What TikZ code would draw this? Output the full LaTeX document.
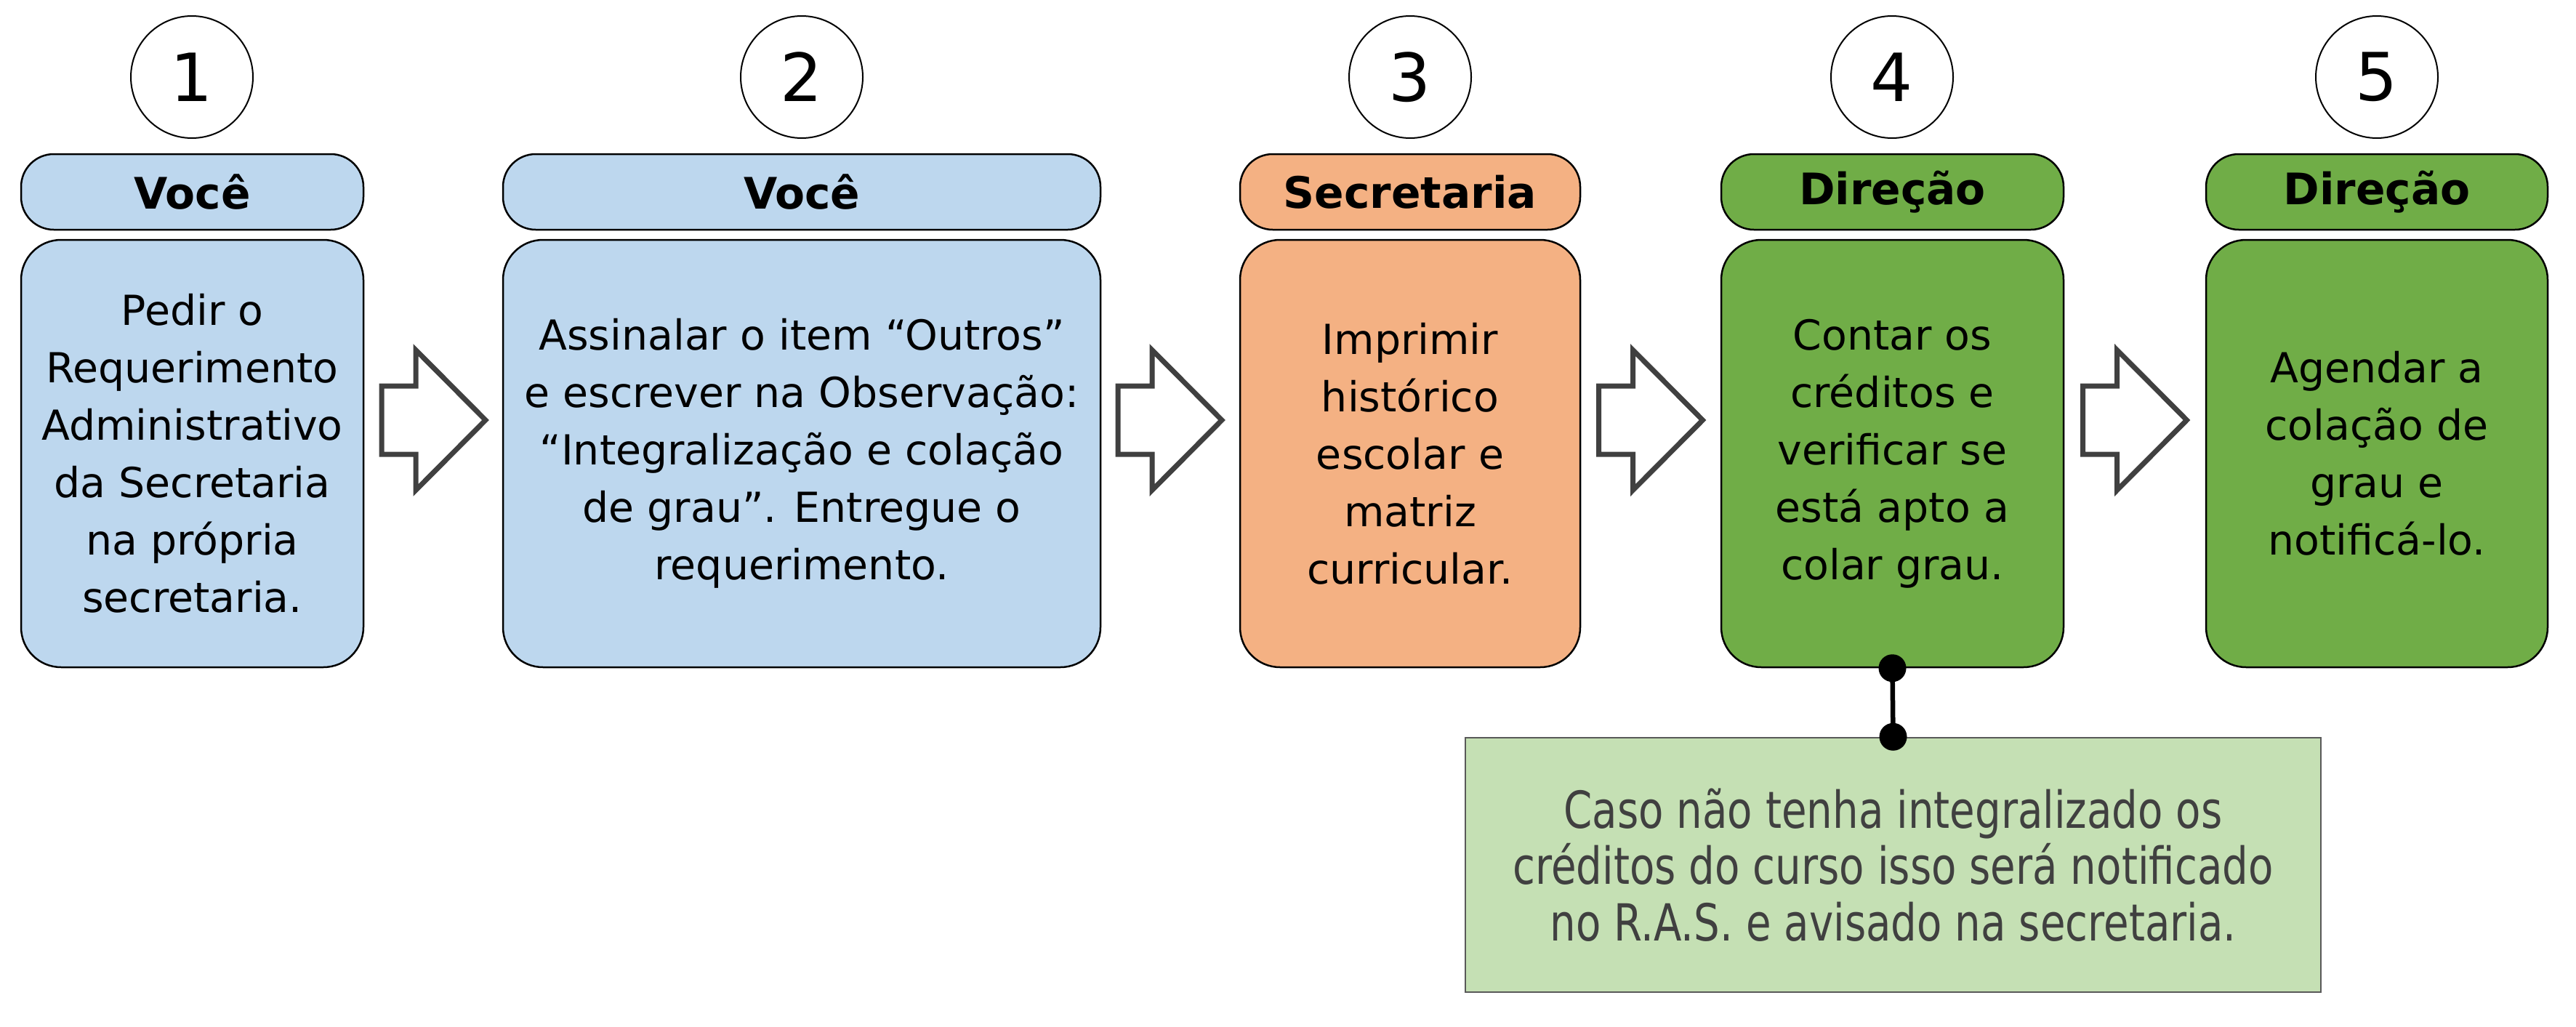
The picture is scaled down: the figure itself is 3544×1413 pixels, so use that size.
\documentclass[tikz,border=0pt]{standalone}
\usepackage{fontspec}
\setmainfont{DejaVu Sans}
\newfontfamily\notefont[FakeStretch=0.8]{DejaVu Sans}
\definecolor{cblue}{HTML}{BDD7EE}
\definecolor{corange}{HTML}{F4B183}
\definecolor{cgreen}{HTML}{70AD47}
\definecolor{clight}{HTML}{C5E0B4}
\definecolor{cgray}{HTML}{404040}
\definecolor{cnote}{HTML}{595959}
\tikzset{
  hdr/.style={draw=black, line width=0.25mm, rounded corners=4.5mm, inner sep=0pt,
    minimum height=10.4mm, font=\fontsize{17}{20}\selectfont\bfseries},
  body/.style={draw=black, line width=0.25mm, rounded corners=5.5mm, inner sep=0pt,
    minimum height=58.8mm, align=center, font=\fontsize{16.2}{22.5}\selectfont},
  num/.style={draw=black, circle, line width=0.2mm, minimum size=16.8mm, inner sep=0pt,
    font=\fontsize{26}{26}\selectfont},
  blockarrow/.pic={\draw[draw=cgray, fill=white, line width=0.7mm, miter limit=10]
    (-71.5,-47) -- ++(47,0) -- ++(0,-49.5) -- ++(96,96.5) -- ++(-96,96.5)
    -- ++(0,-49.5) -- ++(-47,0) -- cycle;}
}
\begin{document}
\begin{tikzpicture}[x=0.1mm,y=-0.1mm]
\useasboundingbox (0,0) rectangle (3544,1413);
% circles
\node[num] (c1) at (264,106) {1};
\node[num] (c2) at (1103,106) {2};
\node[num] (c3) at (1940,106) {3};
\node[num] (c4) at (2603,106) {4};
\node[num] (c5) at (3270,106) {5};
% headers
\node[hdr, fill=cblue, minimum width=47.1mm] (h1) at (264.5,264) {Você};
\node[hdr, fill=cblue, minimum width=82.2mm] (h2) at (1103,264) {Você};
\node[hdr, fill=corange, minimum width=46.8mm] (h3) at (1940,264) {Secretaria};
\node[hdr, fill=cgreen, minimum width=47.1mm] (h4) at (2603.5,264) {Direção};
\node[hdr, fill=cgreen, minimum width=47.0mm] (h5) at (3270,264) {Direção};
% bodies
\node[body, fill=cblue, minimum width=47.1mm] (b1) at (264.5,624)
  {Pedir o\\Requerimento\\Administrativo\\da Secretaria\\na própria\\secretaria.};
\node[body, fill=cblue, minimum width=82.2mm] (b2) at (1103,624)
  {Assinalar o item “Outros”\\e escrever na Observação:\\“Integralização e colação\\de grau”. Entregue o\\requerimento.};
\node[body, fill=corange, minimum width=46.8mm] (b3) at (1940,624)
  {Imprimir\\histórico\\escolar e\\matriz\\curricular.};
\node[body, fill=cgreen, minimum width=47.1mm] (b4) at (2603.5,624)
  {Contar os\\créditos e\\verificar se\\está apto a\\colar grau.};
\node[body, fill=cgreen, minimum width=47.0mm] (b5) at (3270,624)
  {Agendar a\\colação de\\grau e\\notificá-lo.};
% block arrows
\coordinate (a1) at (596.5,578);
\coordinate (a2) at (1609.5,578);
\coordinate (a3) at (2271,578);
\coordinate (a4) at (2937,578);
\pic at (a1) {blockarrow};
\pic at (a2) {blockarrow};
\pic at (a3) {blockarrow};
\pic at (a4) {blockarrow};
% note
\node[draw=cnote, fill=clight, line width=0.25mm, inner sep=0pt, minimum width=117.7mm,
  minimum height=35mm, align=center, text=cgray, font=\notefont\fontsize{20}{22}\selectfont]
  (note) at (2604.5,1190)
  {Caso não tenha integralizado os\\créditos do curso isso será notificado\\no R.A.S. e avisado na secretaria.};
\draw[line width=0.65mm] (b4.south) -- (note.north);
\fill (b4.south) circle (19);
\fill (note.north) circle (19);
\end{tikzpicture}
\end{document}
